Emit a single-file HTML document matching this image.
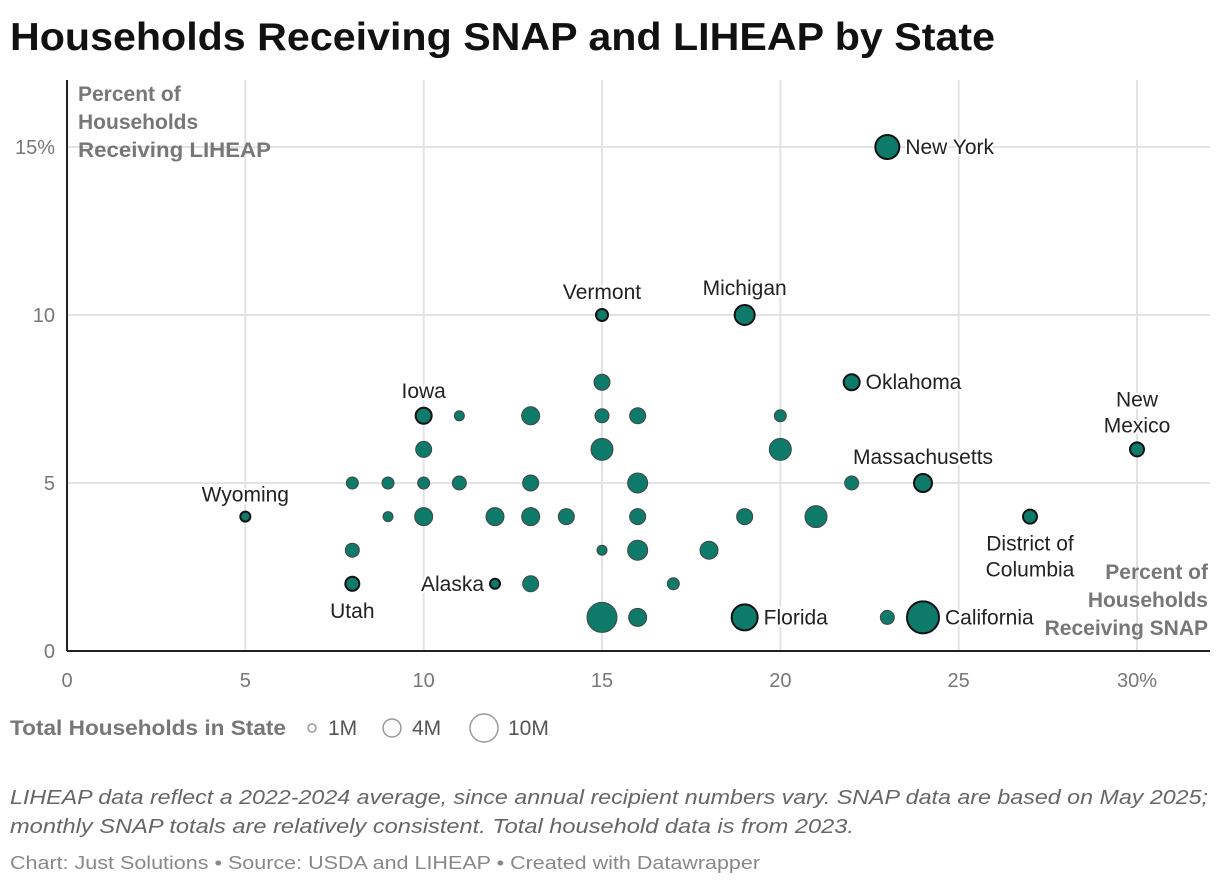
<!DOCTYPE html>
<html><head><meta charset="utf-8">
<style>
body{margin:0;background:#fff;font-family:"Liberation Sans",sans-serif;}
svg text{font-family:"Liberation Sans",sans-serif;}
</style></head>
<body>
<svg width="1220" height="886" viewBox="0 0 1220 886">
<text x="10" y="50" font-size="39" font-weight="bold" fill="#111" textLength="985" lengthAdjust="spacingAndGlyphs">Households Receiving SNAP and LIHEAP by State</text>
<g id="grid"></g>
<g id="pts"></g>
<g id="labels"></g>
<text x="78" y="101" font-size="21" font-weight="bold" fill="#777"><tspan x="78">Percent of</tspan><tspan x="78" dy="28">Households</tspan><tspan x="78" dy="28" textLength="193" lengthAdjust="spacingAndGlyphs">Receiving LIHEAP</tspan></text>
<text font-size="21" font-weight="bold" fill="#777" text-anchor="end"><tspan x="1208" y="579">Percent of</tspan><tspan x="1208" dy="28">Households</tspan><tspan x="1208" dy="28">Receiving SNAP</tspan></text>
<g>
<text x="10" y="735" font-size="21" font-weight="bold" fill="#777" textLength="276" lengthAdjust="spacingAndGlyphs">Total Households in State</text>
<circle cx="312" cy="728" r="4" fill="none" stroke="#999" stroke-width="1.5"/>
<text x="328" y="735" font-size="21" fill="#555">1M</text>
<circle cx="392" cy="728" r="9" fill="none" stroke="#999" stroke-width="1.5"/>
<text x="412" y="735" font-size="21" fill="#555">4M</text>
<circle cx="484" cy="728" r="14" fill="none" stroke="#999" stroke-width="1.5"/>
<text x="508" y="735" font-size="21" fill="#555">10M</text>
</g>
<text font-size="20" font-style="italic" fill="#666"><tspan x="10" y="804" textLength="1198" lengthAdjust="spacingAndGlyphs">LIHEAP data reflect a 2022-2024 average, since annual recipient numbers vary. SNAP data are based on May 2025;</tspan><tspan x="10" y="833" textLength="844" lengthAdjust="spacingAndGlyphs">monthly SNAP totals are relatively consistent. Total household data is from 2023.</tspan></text>
<text x="10" y="869" font-size="18" fill="#888" textLength="750" lengthAdjust="spacingAndGlyphs">Chart: Just Solutions • Source: USDA and LIHEAP • Created with Datawrapper</text>
</svg>
<script>
const xTicks=[0,5,10,15,20,25,30];
const yTicks=[0,5,10,15];
const xVals=[23,15,19,22,30,10,11,13,15,15,16,20,10,15,20,24,22,8,9,10,11,13,16,5,9,10,12,13,14,16,19,21,27,8,15,16,18,8,12,13,17,15,16,19,23,24];
const yVals=[15,10,10,8,6,7,7,7,8,7,7,7,6,6,6,5,5,5,5,5,5,5,5,4,4,4,4,4,4,4,4,4,4,3,3,3,3,2,2,2,2,1,1,1,1,1];
const sizes=[12,6,10,8,7,8,5,9,8,7,8,6,8,11,11,9,7,6,6,6,7,8,10,5,5,9,9,9,8,8,8,11,7,7,5,10,9,7,5,8,6,15,9,13,7,16];
const names=["New York","Vermont","Michigan","Oklahoma","New Mexico","Iowa","","","","","","","","","","Massachusetts","","","","","","","","Wyoming","","","","","","","","","District of Columbia","","","","","Utah","Alaska","","","","","Florida","","California"];
const ns="http://www.w3.org/2000/svg";
const X=v=>67+v*(1137-67)/30, Y=v=>651-v*(651-147)/15;
const grid=document.getElementById('grid'),pts=document.getElementById('pts'),lab=document.getElementById('labels');
function mk(t,a,p){const e=document.createElementNS(ns,t);for(const k in a)e.setAttribute(k,a[k]);p.appendChild(e);return e;}
xTicks.forEach((t,i)=>{
 if(t>0){const l=mk('line',{x1:X(t),x2:X(t),y1:80,y2:651,stroke:'#e3e3e3','stroke-width':2},grid);
 
 }
 const tx=mk('text',{x:X(t),y:687,'font-size':20,fill:'#777','text-anchor':'middle'},grid);
 
 
 tx.textContent=t+(i==xTicks.length-1?'%':'');
});
yTicks.forEach((t,i)=>{
 if(t>0){const l=mk('line',{x1:67,x2:1210,y1:Y(t),y2:Y(t),stroke:'#e3e3e3','stroke-width':2},grid);
 
 }
 const tx=mk('text',{x:55,y:Y(t)+7,'font-size':20,fill:'#777','text-anchor':'end'},grid);
 
 
 tx.textContent=t+(i==yTicks.length-1?'%':'');
});
const ax=mk('line',{x1:67,x2:1210,y1:651,y2:651,stroke:'#222','stroke-width':2},grid);


const ay=mk('line',{x1:67,x2:67,y1:80,y2:651,stroke:'#222','stroke-width':2},grid);


xVals.forEach((v,i)=>{
 const labeled=!!names[i];
 const c=mk('circle',{cx:X(v),cy:Y(yVals[i]),r:sizes[i],fill:'#0e7a6a',stroke:labeled?'#111':'#444','stroke-width':labeled?2:1},pts);
 
 
 if(!labeled)return;
 const cx=X(v),cy=Y(yVals[i]),r=sizes[i];
 let lines=names[i]=="District of Columbia"?["District of","Columbia"]:names[i]=="New Mexico"?["New","Mexico"]:[names[i]];
 let x,y,anchor;
 const n=names[i];
 if(["New York","Oklahoma","Florida","California"].includes(n)){x=cx+r+6;y=cy+7;anchor='start';}
 else if(n=="Alaska"){x=cx-r-6;y=cy+7;anchor='end';}
 else if(n=="Utah"||n=="District of Columbia"){x=cx;y=cy+r+27;anchor='middle';}
 else{x=cx;y=cy-r-10-(lines.length-1)*26;anchor='middle';}
 const t=mk('text',{x:x,y:y,'font-size':21,fill:'#222','text-anchor':anchor,stroke:'#fff','stroke-width':4,'paint-order':'stroke'},lab);
 
 
 lines.forEach((s,j)=>{const sp=mk('tspan',{x:x,dy:j?26:0},t);sp.textContent=s;});
});
</script>
</body></html>
